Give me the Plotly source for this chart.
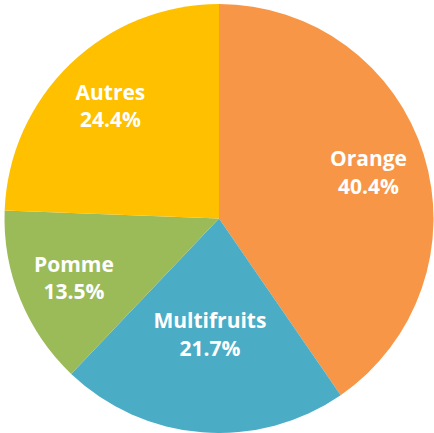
import plotly.graph_objects as go

labels = ["Orange", "Multifruits", "Pomme", "Autres"]
values = [40.4, 21.7, 13.5, 24.4]
colors = ["#F79646", "#4BACC6", "#9BBB59", "#FFC000"]

tmpl = "<b>%{label}<br>%{percent:.1%}</b>"
font = dict(family="Open Sans, Lato, sans-serif", size=21, color="white")
clear = "rgba(0,0,0,0)"

common = dict(
    labels=labels,
    values=values,
    sort=False,
    direction="clockwise",
    rotation=0,
    hoverinfo="label+percent",
    textposition="inside",
    insidetextorientation="horizontal",
    textfont=font,
)

fig = go.Figure()
# full pie with the colours
fig.add_trace(go.Pie(
    **common,
    marker=dict(colors=colors, line=dict(width=0)),
    textinfo="none",
))
# ring carrying the outer labels
fig.add_trace(go.Pie(
    **common,
    hole=0.46,
    marker=dict(colors=[clear] * 4, line=dict(width=0)),
    texttemplate=[tmpl, "", tmpl, tmpl],
))
# slightly smaller transparent pie carrying the label that sits nearer the centre
a = 0.06
fig.add_trace(go.Pie(
    **common,
    domain=dict(x=[a, 1 - a], y=[a, 1 - a]),
    marker=dict(colors=[clear] * 4, line=dict(width=0)),
    texttemplate=["", tmpl, "", ""],
))
fig.update_layout(
    width=434, height=433,
    margin=dict(l=4, r=0, t=4, b=0),
    showlegend=False,
    paper_bgcolor="white",
    uniformtext=dict(minsize=21, mode="show"),
)
fig.write_html("out.html", config={"displayModeBar": False},
               post_script="document.body.style.margin='0';")
